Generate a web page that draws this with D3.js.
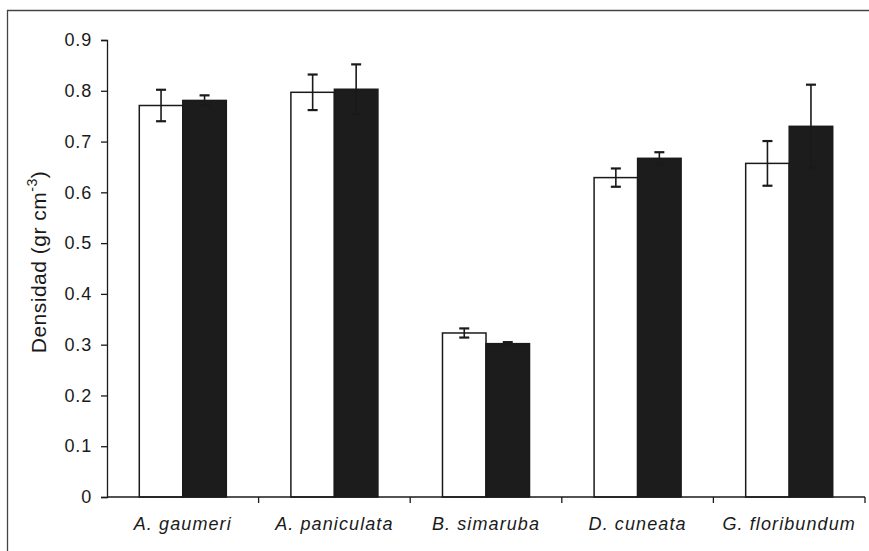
<!DOCTYPE html>
<html>
<head>
<meta charset="utf-8">
<script src="https://cdn.jsdelivr.net/npm/d3@7"></script>
<style>
  body { margin: 0; background: #fff; }
  text { font-family: Arial, "Liberation Sans", sans-serif; fill: #1a1a1a; }
</style>
</head>
<body>
<div id="chart"></div>
<script>
/*
Data
*/
var species = ["A. gaumeri", "A. paniculata", "B. simaruba", "D. cuneata", "G. floribundum"];
var whiteValues = [0.771, 0.797, 0.323, 0.629, 0.657];
var whiteErrors = [0.031, 0.035, 0.009, 0.018, 0.044];
var blackValues = [0.781, 0.803, 0.302, 0.667, 0.730];
var blackErrors = [0.010, 0.049, 0.003, 0.012, 0.082];
var yTicks = [0, 0.1, 0.2, 0.3, 0.4, 0.5, 0.6, 0.7, 0.8, 0.9];

/*
Sizes
*/
var W = 869, H = 551;
var margin = { top: 40, right: 4, bottom: 54, left: 107 },
	width = W - margin.left - margin.right,
	height = H - margin.top - margin.bottom;

var svg = d3.select("#chart").append("svg")
	.attr("width", W)
	.attr("height", H);

// Outer frame (only top and left edges show in the picture)
svg.append("path")
	.attr("d", "M7.5," + (H + 2) + " V10.5 H" + (W + 2))
	.attr("fill", "none")
	.attr("stroke", "#444")
	.attr("stroke-width", 1.3);

var g = svg.append("g")
	.attr("transform", "translate(" + margin.left + "," + margin.top + ")");

// Scales
var xScale = d3.scaleBand()
	.domain(species)
	.range([0, width])
	.paddingInner(0.426)
	.paddingOuter(0.213);

var yScale = d3.scaleLinear()
	.domain([0, 0.9])
	.range([height, 0]);

var groups = species.map(function(s, i) {
	return [
		{ name: s, value: whiteValues[i], err: whiteErrors[i], fill: "#fff", k: 0 },
		{ name: s, value: blackValues[i], err: blackErrors[i], fill: "#1c1c1c", k: 1 }
	];
});
var bars = d3.merge(groups);
var barW = xScale.bandwidth() / 2;

// Bars
g.selectAll("rect.bar")
	.data(bars)
	.enter().append("rect")
	.attr("class", "bar")
	.attr("x", function(d) { return xScale(d.name) + d.k * barW; })
	.attr("y", function(d) { return yScale(d.value); })
	.attr("width", barW)
	.attr("height", function(d) { return height - yScale(d.value); })
	.attr("fill", function(d) { return d.fill; })
	.attr("stroke", "#1a1a1a")
	.attr("stroke-width", 1.5);

// Error bars
var cap = 5;
var eb = g.selectAll("g.err")
	.data(bars)
	.enter().append("g")
	.attr("class", "err")
	.attr("stroke", "#1a1a1a")
	.attr("stroke-width", 1.6);

function cx(d) { return xScale(d.name) + d.k * barW + barW / 2; }

eb.append("line")
	.attr("x1", cx).attr("x2", cx)
	.attr("y1", function(d) { return yScale(d.value + d.err); })
	.attr("y2", function(d) { return yScale(d.value - d.err); });
eb.append("line")
	.attr("x1", function(d) { return cx(d) - cap; })
	.attr("x2", function(d) { return cx(d) + cap; })
	.attr("y1", function(d) { return yScale(d.value + d.err); })
	.attr("y2", function(d) { return yScale(d.value + d.err); })
	.attr("stroke-width", 2.2);
eb.append("line")
	.attr("x1", function(d) { return cx(d) - cap; })
	.attr("x2", function(d) { return cx(d) + cap; })
	.attr("y1", function(d) { return yScale(d.value - d.err); })
	.attr("y2", function(d) { return yScale(d.value - d.err); })
	.attr("stroke-width", 2.2);

// Y axis
var yAxis = d3.axisLeft(yScale)
	.tickValues(yTicks)
	.tickSize(6)
	.tickPadding(9)
	.tickFormat(function(d) { return d === 0 ? "0" : d3.format(".1f")(d); });

var gY = g.append("g").call(yAxis);
gY.selectAll("path, line").attr("stroke", "#1a1a1a").attr("stroke-width", 1.3);
gY.selectAll("text")
	.attr("font-size", 18)
	.attr("letter-spacing", 0.8)
	.attr("font-family", "Arial, 'Liberation Sans', sans-serif")
	.attr("fill", "#1a1a1a");

// X axis with ticks at category boundaries
var gX = g.append("g").attr("transform", "translate(0," + height + ")");
gX.append("line")
	.attr("x1", 0).attr("x2", width)
	.attr("stroke", "#1a1a1a").attr("stroke-width", 1.5);
var step = xScale.step();
var x0 = xScale(species[0]) - step * xScale.paddingOuter();
gX.selectAll("line.tick")
	.data(d3.range(1, species.length + 1))
	.enter().append("line")
	.attr("class", "tick")
	.attr("x1", function(i) { return x0 + i * step; })
	.attr("x2", function(i) { return x0 + i * step; })
	.attr("y1", 0).attr("y2", 6)
	.attr("stroke", "#1a1a1a").attr("stroke-width", 1.3);
gX.selectAll("text")
	.data(species)
	.enter().append("text")
	.attr("x", function(d) { return xScale(d) + xScale.bandwidth() / 2; })
	.attr("y", 33)
	.attr("text-anchor", "middle")
	.attr("font-size", 18)
	.attr("letter-spacing", 1.1)
	.attr("font-style", "italic")
	.text(function(d) { return d; });

// Y label
var yl = svg.append("text")
	.attr("transform", "translate(46," + 262 + ") rotate(-90)")
	.attr("text-anchor", "middle")
	.attr("font-size", 21)
	.attr("letter-spacing", 0.5);
yl.append("tspan").text("Densidad (gr cm");
yl.append("tspan").attr("dy", -9).attr("font-size", 14).text("-3");
yl.append("tspan").attr("dy", 9).text(")");
</script>
</body>
</html>
